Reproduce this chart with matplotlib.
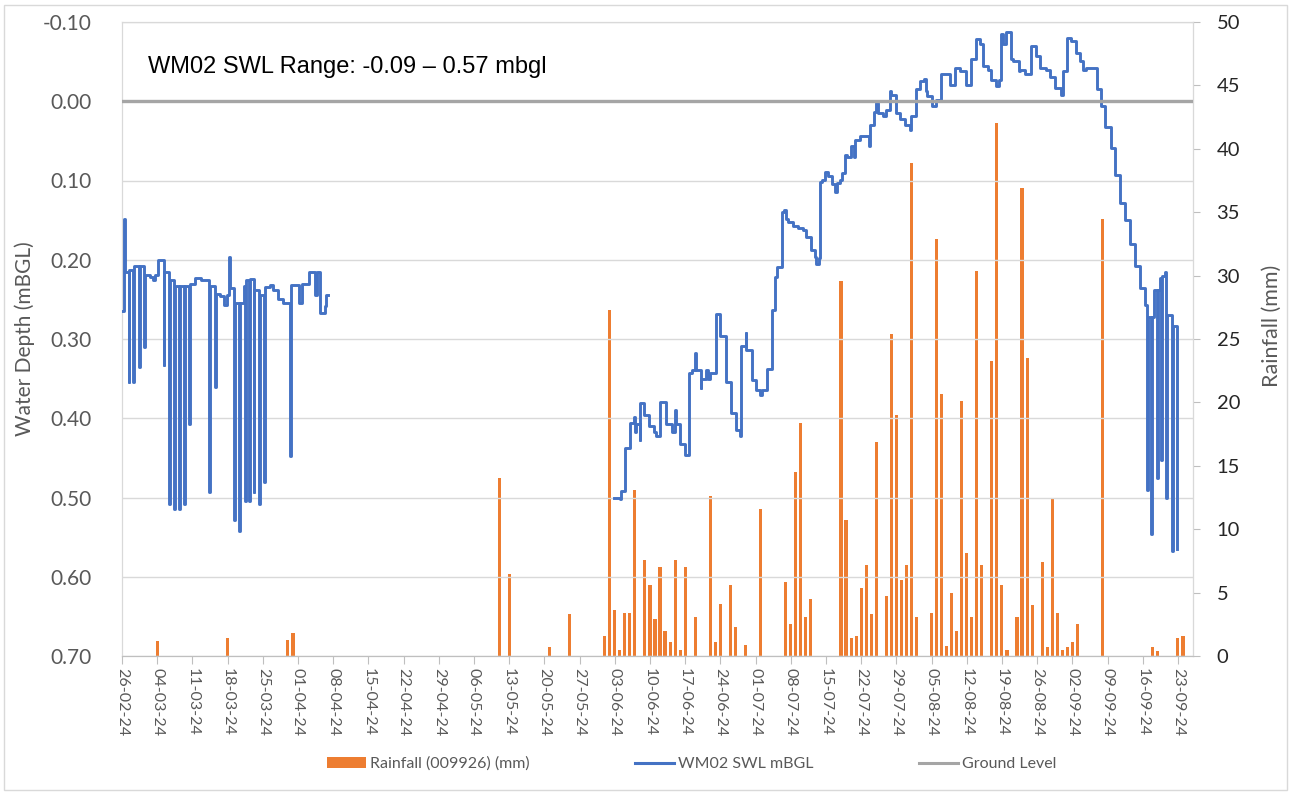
import numpy as np
import matplotlib
matplotlib.use("Agg")
import matplotlib.pyplot as plt
import matplotlib.dates as mdates
from matplotlib.patches import Rectangle, Patch
from matplotlib.lines import Line2D
from matplotlib.ticker import FixedLocator, FuncFormatter
from datetime import datetime

plt.rcParams['font.family'] = ['Lato', 'DejaVu Sans']

# ---------------- data ----------------
START = datetime(2024, 2, 26)          # day 0 of the x axis

# daily rainfall, station 009926 (day offset from START, mm)
rain_day = [7, 21, 33, 34, 75, 77, 85, 89, 96, 97, 98, 99, 100, 101, 102, 104, 105,
            106, 107, 108, 109, 110, 111, 112, 114, 117, 118, 119, 121, 122, 124, 127,
            132, 133, 134, 135, 136, 137, 143, 144, 145, 146, 147, 148, 149, 150, 152,
            153, 154, 155, 156, 157, 158, 161, 162, 163, 164, 165, 166, 167, 168, 169,
            170, 171, 173, 174, 175, 176, 178, 179, 180, 181, 183, 184, 185, 186, 187,
            188, 189, 190, 195, 205, 206, 210, 211]
rain_mm = [1.2, 1.4, 1.3, 1.8, 14.0, 6.5, 0.7, 3.3, 1.6, 27.3, 3.6, 0.5, 3.4, 3.4, 13.1,
           7.6, 5.6, 2.9, 7.0, 2.0, 1.1, 7.6, 0.5, 7.0, 3.1, 12.6, 1.1, 4.1, 5.6, 2.3,
           0.9, 11.6, 5.8, 2.5, 14.5, 18.4, 3.1, 4.5, 29.6, 10.7, 1.4, 1.6, 5.4, 7.2,
           3.3, 16.9, 4.7, 25.4, 19.0, 6.0, 7.2, 38.9, 3.1, 3.4, 32.9, 20.7, 0.8, 5.0,
           2.0, 20.1, 8.1, 3.1, 30.4, 7.2, 23.3, 42.0, 5.6, 0.5, 3.1, 36.9, 23.5, 4.0,
           7.4, 0.7, 12.4, 3.4, 0.5, 0.7, 1.1, 2.5, 34.5, 0.7, 0.4, 1.4, 1.6]

# WM02 standing water level readings (day offset from START, m below ground level)
swl_day_1 = [0.0, 0.35, 0.5, 1.3, 1.45, 2.2, 2.35, 3.4, 3.55, 4.35, 4.5, 5.5, 6.2, 6.5,
             7.2, 8.3, 8.45, 9.4, 9.55, 10.3, 10.45, 11.4, 11.55, 12.3, 12.45, 13.4,
             13.55, 14.5, 15.8, 17.3, 17.45, 18.45, 18.6, 19.5, 20.2, 20.8, 21.3, 21.45,
             22.3, 22.45, 23.3, 23.45, 24.2, 24.45, 24.6, 25.3, 25.45, 26.2, 26.35, 27.3,
             27.45, 28.2, 28.35, 29.5, 30.1, 31.0, 32.0, 33.4, 33.55, 35.2, 35.7, 37.2,
             38.3, 38.7, 39.4, 40.3, 40.6]
swl_mbgl_1 = [0.265, 0.149, 0.215, 0.354, 0.213, 0.354, 0.208, 0.335, 0.208, 0.310,
              0.219, 0.222, 0.225, 0.219, 0.200, 0.333, 0.215, 0.508, 0.225, 0.514,
              0.233, 0.514, 0.233, 0.508, 0.233, 0.407, 0.230, 0.223, 0.226, 0.493,
              0.233, 0.360, 0.243, 0.246, 0.257, 0.244, 0.197, 0.236, 0.529, 0.255,
              0.542, 0.255, 0.233, 0.504, 0.225, 0.504, 0.224, 0.493, 0.238, 0.508,
              0.244, 0.480, 0.234, 0.232, 0.238, 0.250, 0.255, 0.448, 0.232, 0.255,
              0.230, 0.215, 0.244, 0.215, 0.267, 0.258, 0.244]

swl_day_2 = [97.8, 99.0, 99.3, 100.1, 101.0, 101.76, 101.96, 102.3, 102.96, 103.1, 103.9,
             104.9, 105.9, 106.3, 106.9, 108.1, 109.4, 109.9, 110.2, 110.9, 111.9, 112.8,
             113.3, 114.0, 114.2, 115.1, 115.2, 116.2, 116.6, 116.9, 118.1, 119.0, 120.2,
             121.2, 122.2, 123.0, 123.2, 124.1, 124.2, 125.2, 126.1, 126.9, 127.2, 128.2,
             129.3, 129.8, 130.2, 131.2, 131.6, 132.1, 132.4, 133.5, 134.5, 135.4, 136.1,
             137.1, 137.8, 138.1, 138.6, 138.8, 139.3, 139.8, 140.4, 141.3, 141.9, 142.2,
             142.7, 143.2, 143.7, 144.1, 144.9, 145.5, 145.7, 146.7, 148.5, 148.8, 149.5,
             150.0, 150.4, 151.4, 151.9, 152.7, 153.0, 154.0, 154.7, 155.7, 156.7, 157.0,
             157.9, 158.7, 159.6, 159.8, 160.1, 161.0, 161.8, 162.8, 164.7, 165.6, 166.6,
             167.9, 168.9, 169.8, 170.7, 171.2, 172.2, 172.9, 173.9, 174.4, 174.9, 175.2,
             175.9, 176.9, 177.2, 178.4, 178.5, 179.5, 180.8, 181.8, 182.5, 183.8, 184.6,
             185.6, 186.8, 187.1, 187.9, 188.8, 189.7, 190.6, 191.1, 191.8, 193.9, 194.7,
             195.4, 196.7, 197.4, 198.4, 199.5, 200.5, 201.5, 202.5, 203.5, 203.9, 204.05,
             204.7, 204.85, 205.2, 205.8, 205.95, 206.5, 206.7, 206.85, 207.5, 207.7,
             207.85, 208.8, 208.95, 209.8]
swl_mbgl_2 = [0.500, 0.502, 0.492, 0.438, 0.406, 0.398, 0.417, 0.407, 0.427, 0.381, 0.396,
              0.410, 0.417, 0.422, 0.379, 0.407, 0.417, 0.390, 0.407, 0.432, 0.447, 0.343,
              0.339, 0.318, 0.339, 0.362, 0.350, 0.339, 0.350, 0.343, 0.268, 0.296, 0.354,
              0.394, 0.415, 0.423, 0.309, 0.292, 0.314, 0.352, 0.364, 0.371, 0.364, 0.338,
              0.263, 0.222, 0.209, 0.140, 0.137, 0.148, 0.152, 0.157, 0.160, 0.163, 0.171,
              0.188, 0.197, 0.205, 0.198, 0.102, 0.099, 0.089, 0.094, 0.105, 0.114, 0.103,
              0.099, 0.091, 0.068, 0.070, 0.057, 0.070, 0.049, 0.044, 0.057, 0.030, 0.013,
              0.002, 0.015, 0.019, 0.011, -0.013, -0.008, 0.015, 0.023, 0.030, 0.036, 0.019,
              -0.015, -0.025, -0.028, -0.013, -0.006, 0.006, -0.002, -0.034, -0.021, -0.042,
              -0.038, -0.021, -0.053, -0.078, -0.072, -0.044, -0.040, -0.027, -0.019,
              -0.027, -0.085, -0.072, -0.087, -0.053, -0.051, -0.038, -0.040, -0.034,
              -0.070, -0.057, -0.042, -0.040, -0.030, -0.017, -0.008, -0.038, -0.080,
              -0.076, -0.061, -0.051, -0.040, -0.042, -0.015, 0.006, 0.032, 0.059, 0.093,
              0.129, 0.150, 0.180, 0.208, 0.236, 0.257, 0.491, 0.272, 0.546, 0.272, 0.238,
              0.476, 0.238, 0.223, 0.453, 0.220, 0.215, 0.500, 0.270, 0.567, 0.284, 0.565]

ground_level = 0.0
depth_ticks = [-0.10, 0.00, 0.10, 0.20, 0.30, 0.40, 0.50, 0.60, 0.70]
rain_ticks = [0, 5, 10, 15, 20, 25, 30, 35, 40, 45, 50]
tick_every_days = 7
x_span_days = 213
title_text = "WM02 SWL Range: -0.09 \u2013 0.57 mbgl"

# ---------------- figure ----------------
W, H = 1292, 800
fig = plt.figure(figsize=(W / 100, H / 100), dpi=100)
fig.patches.append(Rectangle((4 / W, 10 / H), 1283 / W, 785 / H, transform=fig.transFigure,
                             fill=False, edgecolor='#D9D9D9', lw=1))

L, R, T, B = 122, 1193, 22, 656
ax = fig.add_axes([L / W, 1 - B / H, (R - L) / W, (B - T) / H])
axr = ax.twinx()
ax.set_zorder(2)
axr.set_zorder(1)
ax.patch.set_visible(False)

base = mdates.date2num(START)
grey_txt = '#595959'

# rainfall bars (right axis)
axr.bar(base + np.array(rain_day), rain_mm, width=0.62, color='#ED7D31', zorder=2)
axr.set_ylim(0, 50)
axr.yaxis.set_major_locator(FixedLocator(rain_ticks))
axr.tick_params(axis='y', direction='out', length=5, color='#BFBFBF', pad=12,
                labelsize=14.5, labelcolor='#262626')
axr.set_ylabel('Rainfall (mm)', color=grey_txt, fontsize=15.5)
axr.yaxis.set_label_coords(1.064, 0.52)

# water level (left axis)
swl_x = np.concatenate([base + np.array(swl_day_1), [base + 41.0], base + np.array(swl_day_2)])
swl_y = np.concatenate([swl_mbgl_1, [np.nan], swl_mbgl_2])
ax.plot(swl_x, swl_y, drawstyle='steps-post', color='#4472C4', lw=2.1, zorder=3)
ax.axhline(ground_level, color='#A5A5A5', lw=2.4, zorder=4)

ax.set_ylim(0.70, -0.10)
ax.yaxis.set_major_locator(FixedLocator(depth_ticks))
ax.yaxis.set_major_formatter(FuncFormatter(lambda v, p: f"{(0.0 if abs(v) < 1e-9 else v):.2f}"))
ax.tick_params(axis='y', length=0, pad=22, labelsize=15, labelcolor=grey_txt)
ax.yaxis.grid(True, color='#D9D9D9', lw=1)
ax.set_axisbelow(True)
ax.set_ylabel('Water Depth (mBGL)', color=grey_txt, fontsize=15)
ax.yaxis.set_label_coords(-0.081, 0.5)

ax.set_xlim(base, base + x_span_days)
ax.xaxis.set_major_locator(FixedLocator(base + np.arange(0, 211, tick_every_days)))
ax.xaxis.set_major_formatter(mdates.DateFormatter('%d-%m-%y'))
ax.tick_params(axis='x', direction='out', length=6, color='#BFBFBF', pad=3,
               labelsize=11.5, labelcolor=grey_txt, labelrotation=-90)
for lbl in ax.get_xticklabels():
    lbl.set_va('top')
    lbl.set_ha('center')

for a in (ax, axr):
    for s in a.spines.values():
        s.set_color('#D9D9D9')
    a.spines['bottom'].set_color('#BFBFBF')
axr.spines['right'].set_color('#BFBFBF')

ax.text((148 - L) / (R - L), (B - 67) / (B - T), title_text, transform=ax.transAxes,
        ha='left', va='center', fontsize=17, color='black', family=['Liberation Sans', 'DejaVu Sans'])

handles = [Patch(facecolor='#ED7D31', edgecolor='none'),
           Line2D([], [], color='#4472C4', lw=2.2),
           Line2D([], [], color='#A5A5A5', lw=2.2)]
labels = ['Rainfall (009926) (mm)', 'WM02 SWL mBGL', 'Ground Level']
fig.legend(handles, labels, loc='center', bbox_to_anchor=(692 / W, 1 - 764 / H), ncol=3,
           frameon=False, fontsize=11.5, handlelength=2.45, handletextpad=0.25,
           columnspacing=6.6, labelcolor=grey_txt)

fig.savefig('out.png', dpi=100)
